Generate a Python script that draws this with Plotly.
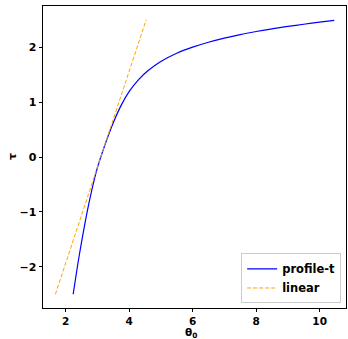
import plotly.graph_objects as go

# profile-t curve (theta_0, tau)
theta_profile = [2.24, 2.42, 2.60, 2.75, 2.90, 3.00, 3.11, 3.30, 3.50, 3.75, 4.00, 4.30, 4.60, 5.00,
                 5.50, 6.00, 6.50, 7.00, 7.50, 8.00, 8.50, 9.00, 9.50, 10.00, 10.46]
tau_profile = [-2.50, -1.83, -1.24, -0.805, -0.42, -0.20, 0.00, 0.32, 0.62, 0.94, 1.19, 1.41, 1.575, 1.74,
               1.89, 2.00, 2.09, 2.165, 2.23, 2.285, 2.335, 2.378, 2.418, 2.456, 2.49]

# linear approximation endpoints
theta_linear = [1.68, 4.54]
tau_linear = [-2.50, 2.50]

x_ticks = [2, 4, 6, 8, 10]
y_ticks = [-2, -1, 0, 1, 2]

x_label = "<b>θ<sub>0</sub></b>"
y_label = "<b>τ</b>"

font_family = "DejaVu Sans"

fig = go.Figure()
fig.add_trace(go.Scatter(
    x=theta_profile, y=tau_profile, mode="lines", name="profile-t",
    line=dict(color="#0000ff", width=1.2, shape="spline", smoothing=0.8),
))
fig.add_trace(go.Scatter(
    x=theta_linear, y=tau_linear, mode="lines", name="linear",
    line=dict(color="#ffa500", width=1.0, dash="4px,2px"),
))

axis_common = dict(
    showgrid=False, zeroline=False, showline=True, linecolor="black", linewidth=1,
    mirror=True, ticks="outside", tickwidth=1, tickcolor="black",
)

fig.update_layout(
    width=348, height=339,
    margin=dict(l=43, r=2, t=6, b=31),
    paper_bgcolor="white", plot_bgcolor="white",
    font=dict(family=font_family, color="black"),
    xaxis=dict(range=[1.29, 10.83], tickvals=x_ticks, ticklen=3,
               tickfont=dict(family=font_family, size=10.5, color="black", weight="bold"),
               **axis_common),
    yaxis=dict(range=[-2.75, 2.75], tickvals=y_ticks, ticklen=3.5,
               tickfont=dict(family=font_family, size=11, color="black", weight="bold"),
               **axis_common),
    legend=dict(x=0.984, y=0.015, xanchor="right", yanchor="bottom",
                bordercolor="#cccccc", borderwidth=1, bgcolor="white",
                font=dict(family=font_family, size=11.5, color="black", weight="bold"),
                tracegroupgap=0, itemwidth=30),
    showlegend=True,
    annotations=[
        dict(text=x_label, xref="paper", yref="paper", x=0.49, y=0, xanchor="center",
             yanchor="top", yshift=-17, showarrow=False, borderpad=0,
             font=dict(family=font_family, size=10.5, color="black")),
        dict(text=y_label, xref="paper", yref="paper", x=0, y=0.5, xanchor="center",
             yanchor="middle", xshift=-31, textangle=-90, showarrow=False, borderpad=0,
             font=dict(family=font_family, size=11, color="black")),
    ],
)

fig.write_html("out.html")
